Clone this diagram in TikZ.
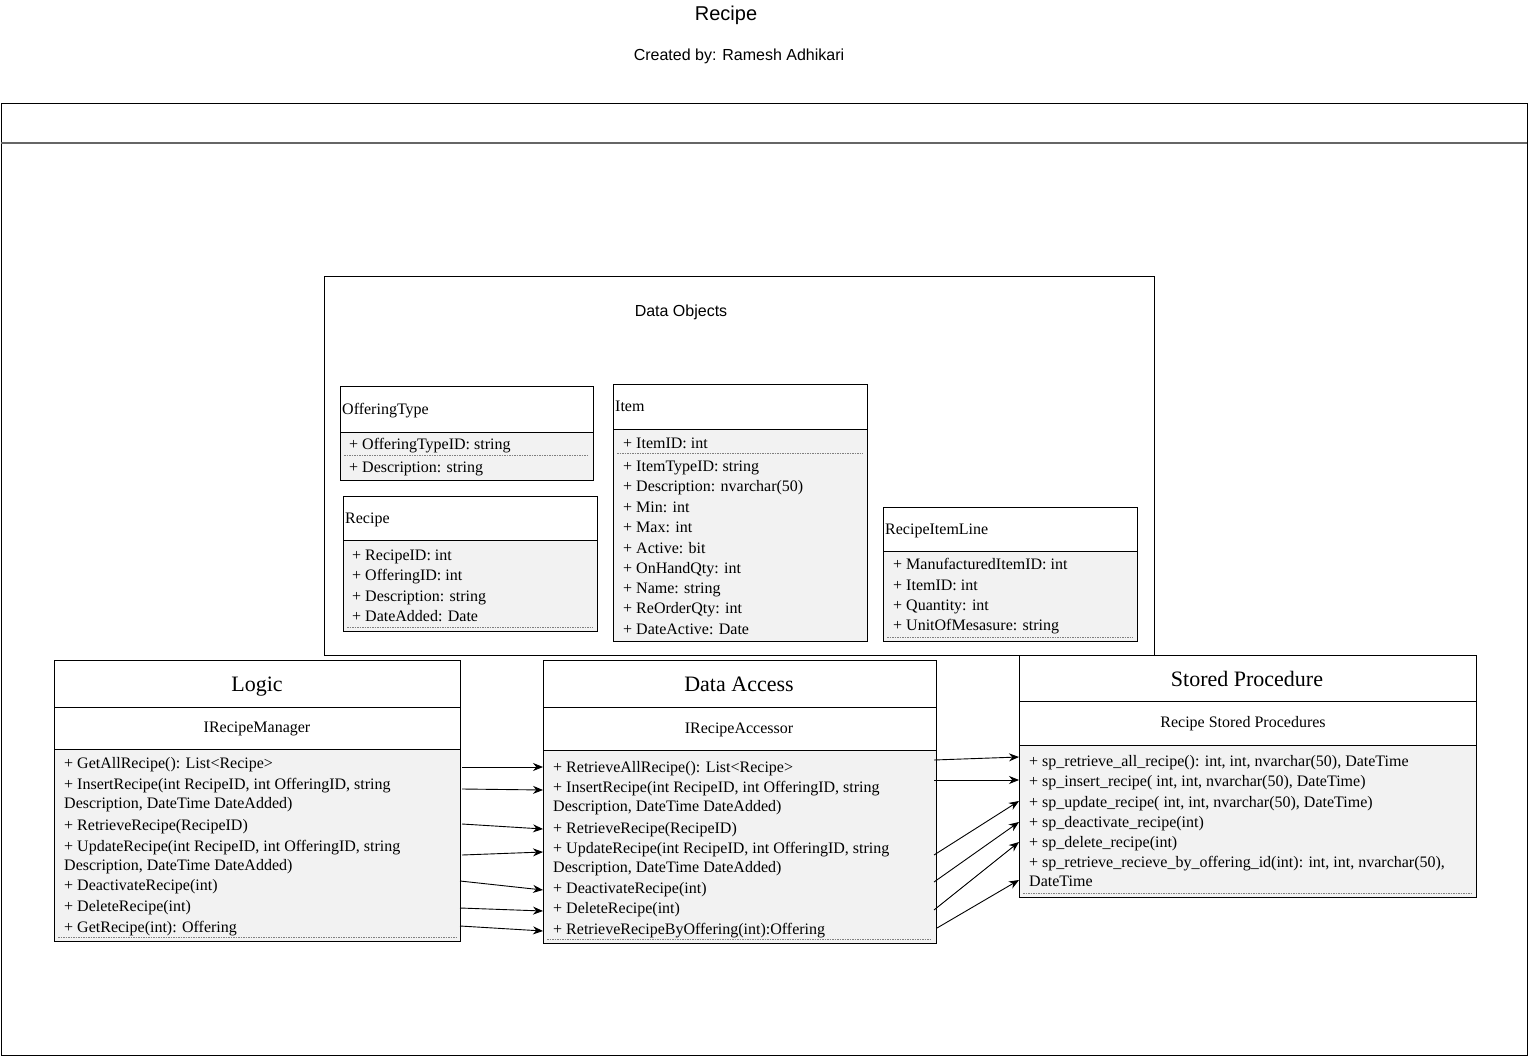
\documentclass[tikz,border=0pt]{standalone}
\usepackage{fontspec}
\setmainfont{Liberation Serif}
\newfontfamily\hsans{Liberation Sans}
\usetikzlibrary{arrows.meta}
\definecolor{bodyfill}{RGB}{242,242,242}
\begin{document}
\begin{tikzpicture}[x=1pt,y=-1pt,
 frame/.style={draw=black,line width=1pt},
 classbox/.style={draw=black,line width=1pt,fill=bodyfill},
 hdr/.style={draw=black,line width=1pt,fill=white},
 sepline/.style={draw=black,line width=1pt},
 sep/.style={draw=gray,line width=0.8pt,dash pattern=on 1.5pt off 1pt},
 row/.style={anchor=base west,inner sep=0pt,font=\fontsize{16}{19}\selectfont},
 ctitle/.style={anchor=base,inner sep=0pt,font=\fontsize{22}{26}\selectfont},
 csub/.style={anchor=base,inner sep=0pt,font=\fontsize{16}{19}\selectfont},
 sanslabel/.style={anchor=center,inner sep=0pt,font=\hsans\fontsize{16}{19}\selectfont},
 conn/.style={draw=black,line width=0.9pt,-{Stealth[length=10pt,width=8pt]}},
]
\useasboundingbox (0,0) rectangle (1528,1056);

% titles
\node[anchor=center,inner sep=0pt,font=\hsans\fontsize{20}{24}\selectfont] (title) at (726,15) {Recipe};
\node[sanslabel] (author) at (739,56) {Created by: Ramesh Adhikari};

% outer container
\draw[frame] (1,104) rectangle (1527,1055);
\draw[gray!80!black,line width=1.2pt] (1,143) -- (1527,143);

% Data Objects
\draw[draw=black,line width=0.8pt] (324,276) rectangle (1154,655);
\node[sanslabel] (dolabel) at (681,312) {Data Objects};

% OfferingType
\draw[classbox] (340,386) rectangle (593,480);
\draw[hdr] (340,386) rectangle (593,432);
\draw[sep] (344,455) -- (589,455);
\node[row] (ot) at (342,414) {OfferingType};
\node[row] (ot1) at (349,449) {+ OfferingTypeID: string};
\node[row] (ot2) at (349,472) {+ Description: string};

% Recipe
\draw[classbox] (343,496) rectangle (597,631);
\draw[hdr] (343,496) rectangle (597,540);
\draw[sep] (347,627) -- (593,627);
\node[row] (rc) at (345,523) {Recipe};
\node[row] (rc1) at (352,560) {+ RecipeID: int};
\node[row] (rc2) at (352,580) {+ OfferingID: int};
\node[row] (rc3) at (352,601) {+ Description: string};
\node[row] (rc4) at (352,621) {+ DateAdded: Date};

% Item
\draw[classbox] (613,384) rectangle (867,641);
\draw[hdr] (613,384) rectangle (867,429);
\draw[sep] (617,453) -- (863,453);
\node[row] (it) at (615,411) {Item};
\node[row] (it1) at (623,448) {+ ItemID: int};
\node[row] (it2) at (623,471) {+ ItemTypeID: string};
\node[row] (it3) at (623,491) {+ Description: nvarchar(50)};
\node[row] (it4) at (623,512) {+ Min: int};
\node[row] (it5) at (623,532) {+ Max: int};
\node[row] (it6) at (623,553) {+ Active: bit};
\node[row] (it7) at (623,573) {+ OnHandQty: int};
\node[row] (it8) at (623,593) {+ Name: string};
\node[row] (it9) at (623,613) {+ ReOrderQty: int};
\node[row] (it10) at (623,634) {+ DateActive: Date};

% RecipeItemLine
\draw[classbox] (883,507) rectangle (1137,641);
\draw[hdr] (883,507) rectangle (1137,551);
\draw[sep] (887,637) -- (1133,637);
\node[row] (ril) at (885,534) {RecipeItemLine};
\node[row] (ril1) at (893,569) {+ ManufacturedItemID: int};
\node[row] (ril2) at (893,590) {+ ItemID: int};
\node[row] (ril3) at (893,610) {+ Quantity: int};
\node[row] (ril4) at (893,630) {+ UnitOfMesasure: string};

% Logic
\draw[classbox] (54,660) rectangle (460,941);
\draw[hdr] (54,660) rectangle (460,749);
\draw[sepline] (54,707) -- (460,707);
\draw[sep] (58,937) -- (456,937);
\node[ctitle] (lg) at (257,691) {Logic};
\node[csub] (lgs) at (257,732) {IRecipeManager};
\node[row] (lg1) at (64,768) {+ GetAllRecipe(): List<Recipe>};
\node[row] (lg2) at (64,789) {+ InsertRecipe(int RecipeID, int OfferingID, string};
\node[row] (lg2b) at (64,808) {Description, DateTime DateAdded)};
\node[row] (lg3) at (64,830) {+ RetrieveRecipe(RecipeID)};
\node[row] (lg4) at (64,851) {+ UpdateRecipe(int RecipeID, int OfferingID, string};
\node[row] (lg4b) at (64,870) {Description, DateTime DateAdded)};
\node[row] (lg5) at (64,890) {+ DeactivateRecipe(int)};
\node[row] (lg6) at (64,911) {+ DeleteRecipe(int)};
\node[row] (lg7) at (64,932) {+ GetRecipe(int): Offering};

% Data Access
\draw[classbox] (543,660) rectangle (936,943);
\draw[hdr] (543,660) rectangle (936,750);
\draw[sepline] (543,707) -- (936,707);
\draw[sep] (547,939) -- (932,939);
\node[ctitle] (da) at (739,691) {Data Access};
\node[csub] (das) at (739,733) {IRecipeAccessor};
\node[row] (da1) at (553,772) {+ RetrieveAllRecipe(): List<Recipe>};
\node[row] (da2) at (553,792) {+ InsertRecipe(int RecipeID, int OfferingID, string};
\node[row] (da2b) at (553,811) {Description, DateTime DateAdded)};
\node[row] (da3) at (553,833) {+ RetrieveRecipe(RecipeID)};
\node[row] (da4) at (553,853) {+ UpdateRecipe(int RecipeID, int OfferingID, string};
\node[row] (da4b) at (553,872) {Description, DateTime DateAdded)};
\node[row] (da5) at (553,893) {+ DeactivateRecipe(int)};
\node[row] (da6) at (553,913) {+ DeleteRecipe(int)};
\node[row] (da7) at (553,934) {+ RetrieveRecipeByOffering(int):Offering};

% Stored Procedure
\draw[classbox] (1019,655) rectangle (1476,897);
\draw[hdr] (1019,655) rectangle (1476,745);
\draw[sepline] (1019,701) -- (1476,701);
\draw[sep] (1023,893) -- (1472,893);
\node[ctitle] (sp) at (1247,686) {Stored Procedure};
\node[csub] (sps) at (1243,727) {Recipe Stored Procedures};
\node[row] (sp1) at (1029,766) {+ sp\_retrieve\_all\_recipe(): int, int, nvarchar(50), DateTime};
\node[row] (sp2) at (1029,786) {+ sp\_insert\_recipe( int, int, nvarchar(50), DateTime)};
\node[row] (sp3) at (1029,807) {+ sp\_update\_recipe( int, int, nvarchar(50), DateTime)};
\node[row] (sp4) at (1029,827) {+ sp\_deactivate\_recipe(int)};
\node[row] (sp5) at (1029,847) {+ sp\_delete\_recipe(int)};
\node[row] (sp6) at (1029,867) {+ sp\_retrieve\_recieve\_by\_offering\_id(int): int, int, nvarchar(50),};
\node[row] (sp6b) at (1029,886) {DateTime};

% connector end points
\coordinate (la1) at (462,767); \coordinate (db1) at (543,767);
\coordinate (la2) at (462,789); \coordinate (db2) at (543,790);
\coordinate (la3) at (462,824); \coordinate (db3) at (543,829);
\coordinate (la4) at (462,855); \coordinate (db4) at (543,852);
\coordinate (la5) at (460,881); \coordinate (db5) at (543,890);
\coordinate (la6) at (460,908); \coordinate (db6) at (543,911);
\coordinate (la7) at (460,926); \coordinate (db7) at (543,931);

\coordinate (dc1) at (934,760); \coordinate (sq1) at (1019,757);
\coordinate (dc2) at (934,780); \coordinate (sq2) at (1019,780);
\coordinate (dc3) at (934,855); \coordinate (sq3) at (1019,801);
\coordinate (dc4) at (934,882); \coordinate (sq4) at (1019,822);
\coordinate (dc5) at (934,910); \coordinate (sq5) at (1019,842);
\coordinate (dc6) at (937,928); \coordinate (sq6) at (1019,880);

\foreach \i in {1,...,7} { \draw[conn] (la\i) -- (db\i); }
\foreach \i in {1,...,6} { \draw[conn] (dc\i) -- (sq\i); }
\end{tikzpicture}
\end{document}
